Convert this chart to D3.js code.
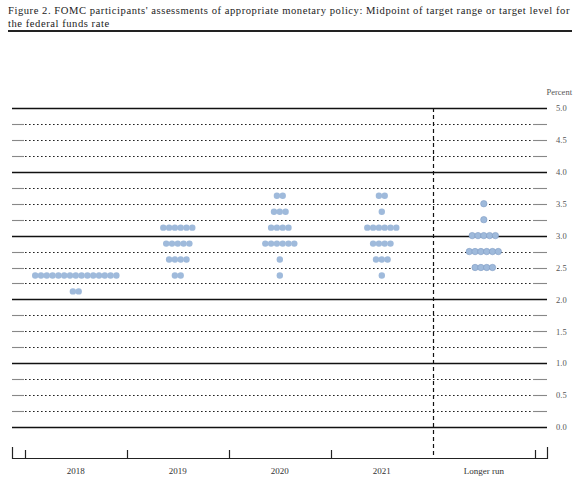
<!DOCTYPE html>
<html>
<head>
<meta charset="utf-8">
<script src="https://cdn.jsdelivr.net/npm/d3@7"></script>
<style>
  body { margin: 0; background: #fff; }
  svg { display: block; }
  text { font-family: "Liberation Serif", "DejaVu Serif", serif; }
</style>
</head>
<body>
<svg id="chart" width="580" height="487"></svg>
<script>
// Projection periods shown along the bottom
const periods = ["2018", "2019", "2020", "2021", "Longer run"];

// Participants' midpoints: [rate, number of participants]
const dots2018 = [[2.375, 15], [2.125, 2]];
const dots2019 = [[3.125, 6], [2.875, 5], [2.625, 4], [2.375, 2]];
const dots2020 = [[3.625, 2], [3.375, 3], [3.125, 4], [2.875, 6], [2.625, 1], [2.375, 1]];
const dots2021 = [[3.625, 2], [3.375, 1], [3.125, 6], [2.875, 4], [2.625, 3], [2.375, 1]];
const dotsLongerRun = [[3.5, 1], [3.25, 1], [3.0, 5], [2.75, 6], [2.5, 4]];

// Labelled percent levels on the right-hand side
const yTickValues = [0, 0.5, 1, 1.5, 2, 2.5, 3, 3.5, 4, 4.5, 5];
const yTickLabels = ["0.0", "0.5", "1.0", "1.5", "2.0", "2.5", "3.0", "3.5", "4.0", "4.5", "5.0"];

const titleLines = [
  "Figure 2. FOMC participants' assessments of appropriate monetary policy: Midpoint of target range or target level for",
  "the federal funds rate"
];

const dotsByPeriod = [dots2018, dots2019, dots2020, dots2021, dotsLongerRun];

const svg = d3.select("#chart");

const frameLeft = 12, frameRight = 547;
const axisY = 458;

const x = d3.scaleBand().domain(periods).range([24.8, 534.8]).paddingInner(0).paddingOuter(0);
const y = d3.scaleLinear().domain([0, 5]).range([427, 108]);

// Title: first line is spread to the full rule width, second line uses the same tracking
const titleWidth = 562;
const title = svg.append("g");
const titleText = title.selectAll("text").data(titleLines).join("text")
  .attr("x", 8)
  .attr("y", (d, i) => 14 + i * 12.5)
  .attr("font-size", 10.6)
  .attr("fill", "#222")
  .text(d => d);
const firstNode = titleText.nodes()[0];
const natural = firstNode.getComputedTextLength();
const extra = (titleWidth - natural) / titleLines[0].length;
titleText.attr("letter-spacing", extra.toFixed(3));
svg.append("line")
  .attr("x1", 8).attr("x2", 572).attr("y1", 31).attr("y2", 31)
  .attr("stroke", "#222").attr("stroke-width", 1.8);

// Horizontal reference lines every quarter point
const gridLevels = d3.range(0, 5.0001, 0.25);
const grid = svg.append("g");
gridLevels.forEach(v => {
  const yy = Math.round(y(v)) + 0.5;
  const whole = Math.abs(v - Math.round(v)) < 1e-9;
  if (whole) {
    grid.append("line")
      .attr("x1", frameLeft).attr("x2", frameRight).attr("y1", yy).attr("y2", yy)
      .attr("stroke", "#111").attr("stroke-width", 1.3);
  } else {
    grid.append("line")
      .attr("x1", frameLeft).attr("x2", frameLeft + 12).attr("y1", yy).attr("y2", yy)
      .attr("stroke", "#888").attr("stroke-width", 1.1);
    grid.append("line")
      .attr("x1", frameRight - 14).attr("x2", frameRight).attr("y1", yy).attr("y2", yy)
      .attr("stroke", "#888").attr("stroke-width", 1.1);
    grid.append("line")
      .attr("x1", frameLeft + 13).attr("x2", frameRight - 15).attr("y1", yy).attr("y2", yy)
      .attr("stroke", "#222").attr("stroke-width", 1.2)
      .attr("stroke-dasharray", "1.6,2.4");
  }
});

// Right-hand percent labels
const yAxis = d3.axisRight(y).tickValues(yTickValues)
  .tickFormat((d, i) => yTickLabels[i]).tickSize(0).tickPadding(0);
const yAxisG = svg.append("g").attr("transform", `translate(${frameRight + 9},0)`).call(yAxis);
yAxisG.select(".domain").remove();
yAxisG.selectAll("text")
  .attr("font-family", "Liberation Serif, DejaVu Serif, serif")
  .attr("font-size", 8.5).attr("fill", "#555");
svg.append("text")
  .attr("x", 572).attr("y", 95).attr("text-anchor", "end")
  .attr("font-size", 8.5).attr("fill", "#555").text("Percent");

// Separator before the longer-run column
const lrX = Math.round(x("Longer run")) + 0.5;
svg.append("line")
  .attr("x1", lrX).attr("x2", lrX).attr("y1", y(5)).attr("y2", axisY)
  .attr("stroke", "#111").attr("stroke-width", 1.2).attr("stroke-dasharray", "4,3");

// Bottom axis line with column boundary ticks
const xAxisG = svg.append("g");
xAxisG.append("line")
  .attr("x1", frameLeft).attr("x2", frameRight).attr("y1", axisY + 0.5).attr("y2", axisY + 0.5)
  .attr("stroke", "#222").attr("stroke-width", 1.2);
[frameLeft, frameRight].forEach(xx => {
  xAxisG.append("line")
    .attr("x1", xx + 0.5).attr("x2", xx + 0.5).attr("y1", axisY - 11).attr("y2", axisY + 1)
    .attr("stroke", "#222").attr("stroke-width", 1.2);
});
const boundaries = periods.filter(p => p !== "Longer run").map(p => x(p))
  .concat([x.range()[1]]);
boundaries.forEach(xx => {
  const bx = Math.round(xx) + 0.5;
  xAxisG.append("line")
    .attr("x1", bx).attr("x2", bx).attr("y1", axisY - 8).attr("y2", axisY + 1)
    .attr("stroke", "#222").attr("stroke-width", 1.2);
});
const xLabels = svg.append("g").attr("transform", `translate(0,${axisY + 10})`)
  .call(d3.axisBottom(x).tickSize(0).tickPadding(0));
xLabels.select(".domain").remove();
xLabels.selectAll("text")
  .attr("font-family", "Liberation Serif, DejaVu Serif, serif")
  .attr("font-size", 9).attr("fill", "#333");

// Participant dots, centred in each column
const spacing = 5.8, radius = 3.2;
const points = [];
periods.forEach((p, pi) => {
  const cx = x(p) + x.bandwidth() / 2;
  dotsByPeriod[pi].forEach(([rate, n]) => {
    for (let i = 0; i < n; i++) {
      points.push({ period: p, rate, x: cx + (i - (n - 1) / 2) * spacing });
    }
  });
});
svg.append("g").selectAll("circle").data(points).join("circle")
  .attr("cx", d => d.x)
  .attr("cy", d => y(d.rate))
  .attr("r", radius)
  .attr("fill", "#9fbadb")
  .attr("stroke", d => d.period === "Longer run" ? "#7f9cc4" : "none")
  .attr("stroke-width", 0.6);
</script>
</body>
</html>
